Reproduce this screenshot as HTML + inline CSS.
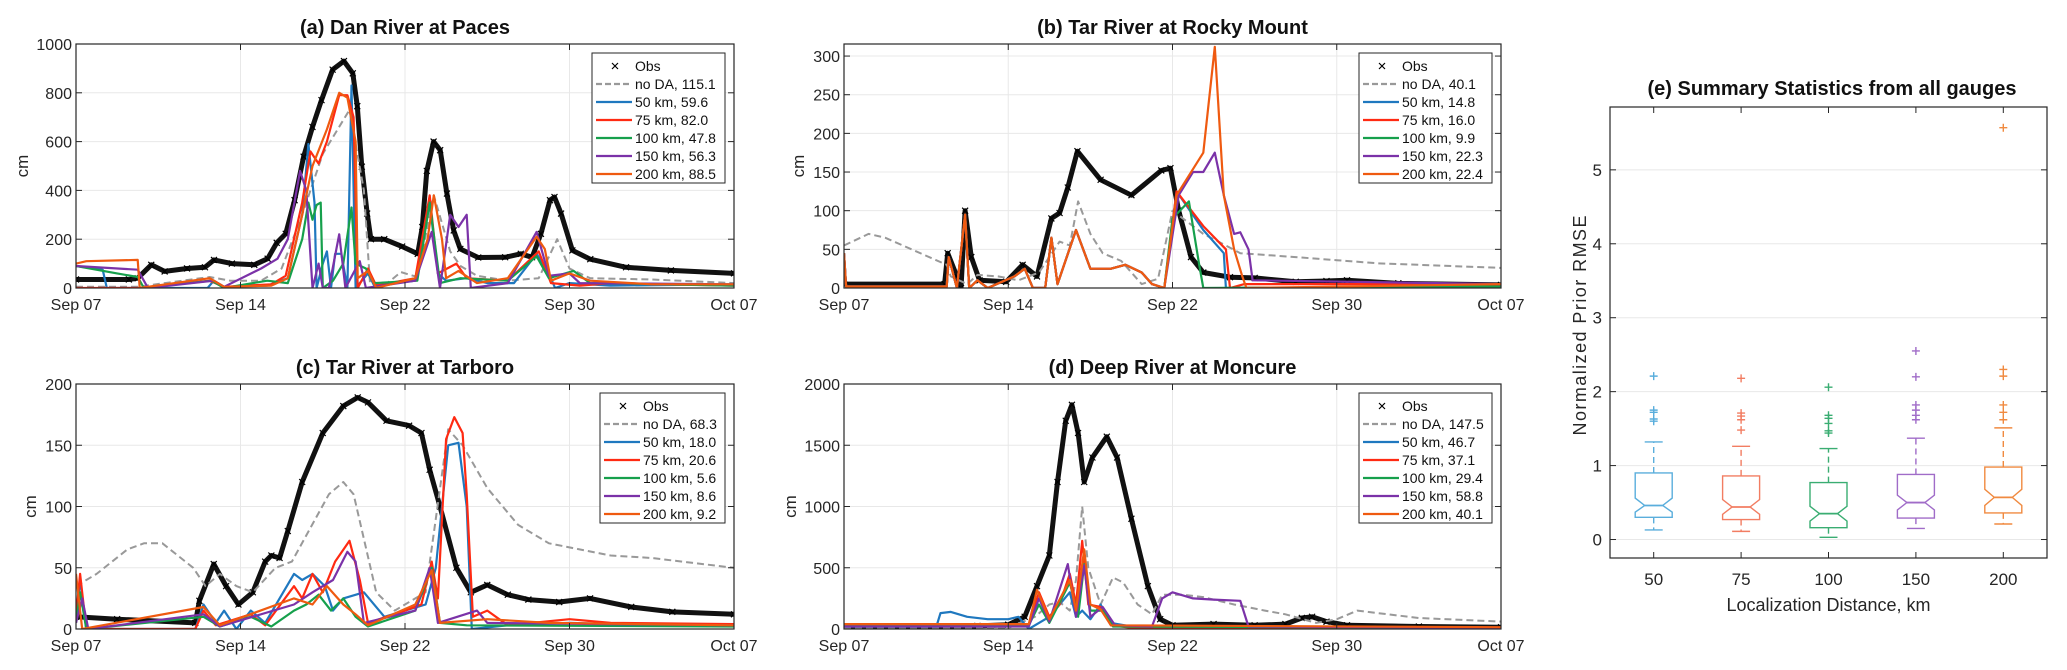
<!DOCTYPE html>
<html><head><meta charset="utf-8"><style>
html,body{margin:0;padding:0;background:#fff;}
svg{display:block;font-family:"Liberation Sans",Arial,sans-serif;}
</style></head><body>
<svg id="fig" width="2067" height="670" viewBox="0 0 2067 670"></svg>
<script>
// ---------- shared data ----------
const xTickDays = [0, 8, 16, 24, 32];
const xTickLabels = ["Sep 07", "Sep 14", "Sep 22", "Sep 30", "Oct 07"];
const seriesNames = ["Obs", "no DA", "50 km", "75 km", "100 km", "150 km", "200 km"];

// ---------- panel (a) ----------
const aScores = ["", "115.1", "59.6", "82.0", "47.8", "56.3", "88.5"];
const aYTicks = [0, 200, 400, 600, 800, 1000];
const aObs = [[0,35],[2.57,35],[3.0,40],[3.66,95],[4.31,68],[5.4,80],[6.27,85],[6.71,115],[7.58,100],[8.67,95],[9.32,120],[9.76,185],[10.2,222],[10.63,360],[11.07,538],[11.5,660],[11.94,770],[12.48,895],[13.03,930],[13.46,880],[13.68,745],[13.9,497],[14.16,305],[14.34,200],[14.99,200],[15.86,170],[16.62,140],[16.84,250],[17.06,480],[17.39,600],[17.71,565],[18.04,387],[18.37,236],[18.69,160],[19.56,125],[20.87,126],[21.63,140],[22.18,126],[22.61,222],[23.05,360],[23.27,373],[23.59,305],[24.14,154],[25.01,118],[26.75,85],[28.93,72],[32,60]];
const aNoDA = [[0,5],[3,5],[6.5,45],[7.5,30],[9,30],[10,80],[11,300],[12,550],[13.3,730],[14,400],[14.3,20],[15,10],[15.8,65],[16.6,45],[17.4,380],[18.2,150],[18.7,90],[19.5,50],[21,30],[22.5,40],[23.4,200],[24,80],[25,40],[28,35],[32,20]];
const a50 = [[0,90],[1.3,75],[1.5,0],[6.4,0],[6.7,30],[7.2,5],[9.3,10],[10.3,40],[11.0,300],[11.3,590],[11.6,350],[11.7,0],[12.0,100],[12.2,150],[12.4,0],[12.6,140],[12.9,140],[13.2,0],[13.4,830],[13.6,0],[14.2,60],[14.5,10],[16.5,30],[17.2,350],[17.6,60],[18.0,30],[19,40],[20,20],[21.3,20],[22.4,140],[23.0,60],[23.3,0],[24,20],[26,10],[32,15]];
const a75 = [[0,0],[3,0],[6.5,30],[7.2,5],[9.5,15],[10.2,50],[11,350],[11.4,560],[11.8,510],[12.2,600],[12.8,790],[13.2,790],[13.5,700],[13.7,0],[14.2,80],[14.6,10],[16.5,40],[17.2,380],[17.6,60],[18.5,100],[19,40],[21,30],[22.5,150],[23.1,20],[24.5,10],[26,20],[32,10]];
const a100 = [[0,90],[2,60],[3,45],[3.3,0],[6.6,30],[7.2,0],[9.3,30],[10.3,20],[11,200],[11.3,350],[11.5,280],[11.7,340],[11.9,350],[12.0,0],[12.5,30],[13.0,100],[13.4,330],[13.6,100],[14.1,80],[14.5,20],[16.6,30],[17.2,350],[17.7,20],[18.7,40],[21,30],[22.4,130],[23.0,40],[24.2,70],[25,20],[32,10]];
const a150 = [[0,90],[3,75],[3.5,0],[6.7,30],[7.2,5],[9.0,80],[9.8,120],[10.3,200],[10.9,480],[11.2,400],[11.5,0],[11.8,100],[12.0,0],[12.3,0],[12.8,220],[13.1,0],[13.8,110],[14.1,0],[16.5,30],[17.3,230],[17.7,0],[18.2,300],[18.6,250],[19.0,300],[19.2,0],[21,20],[22.4,230],[23.0,50],[24,60],[24.5,20],[32,15]];
const a200 = [[0,100],[0.5,110],[3,115],[3.1,0],[6.5,40],[7.2,5],[9.5,10],[10.3,40],[11,300],[11.5,500],[12.2,650],[12.8,800],[13.2,780],[13.6,600],[13.7,40],[14.2,70],[14.6,0],[16.5,40],[17.1,200],[17.4,380],[17.8,200],[18,40],[18.6,70],[19.5,20],[21,40],[22.4,210],[22.8,160],[23.1,30],[24,60],[25,30],[28,15],[32,15]];

// ---------- panel (b) ----------
const bScores = ["", "40.1", "14.8", "16.0", "9.9", "22.3", "22.4"];
const bYTicks = [0, 50, 100, 150, 200, 250, 300];
const bObs = [[0,5],[4.9,5],[5.05,45],[5.5,15],[5.7,0],[5.9,100],[6.2,40],[6.6,10],[7.9,8],[8.7,30],[9.4,15],[10.1,90],[10.5,97],[10.9,130],[11.37,177],[12.5,140],[14,120],[15.45,152],[15.9,155],[16.3,100],[16.9,40],[17.5,20],[18.8,14],[20,13],[22,8],[23.5,9],[24.5,10],[27,6],[32,4]];
const bNoDA = [[0,55],[1.2,70],[2,65],[5,30],[5.2,15],[6,5],[6.5,17],[7.5,15],[8.5,10],[9.5,20],[10.5,60],[11.0,55],[11.4,112],[12.0,70],[12.6,45],[13.5,35],[14.5,5],[15.3,12],[16,100],[16.5,90],[17.5,70],[18.6,55],[19.3,45],[22,40],[24,36],[26,32],[32,26]];
const bEarly = [[0,45],[0.1,2],[5,2],[5.1,40],[5.5,0],[5.9,95],[6.1,0],[6.5,10],[7,0],[8.3,15],[8.8,25],[9.2,0],[9.8,0],[10.1,65],[10.4,5],[11.3,75],[12,25],[13,25],[13.7,30],[14.5,20],[15,5],[15.6,0]];
const b50 = bEarly.concat([[16.2,125],[17.5,75],[18.5,45],[18.6,0],[32,1]]);
const b75 = bEarly.concat([[16.2,125],[17.5,80],[18.6,50],[18.8,0],[19.5,5],[32,5]]);
const b100 = bEarly.concat([[16,90],[16.8,112],[17.3,30],[17.5,0],[32,2]]);
const b150 = bEarly.concat([[16.3,120],[17,150],[17.5,150],[18.06,175],[18.5,120],[19.0,70],[19.3,72],[19.7,50],[19.9,10],[32,5]]);
const b200 = bEarly.concat([[16.2,120],[17.5,175],[18.06,312],[18.5,120],[19.0,50],[19.4,15],[19.6,0],[32,5]]);

// ---------- panel (c) ----------
const cScores = ["", "68.3", "18.0", "20.6", "5.6", "8.6", "9.2"];
const cYTicks = [0, 50, 100, 150, 200];
const cObs = [[0,10],[2,8],[5.8,5],[6.0,23],[6.7,53],[7.3,35],[7.9,20],[8.6,30],[9.2,55],[9.5,60],[9.9,58],[10.3,80],[11,120],[12,160],[13.0,182],[13.7,189],[14.2,185],[15.1,170],[16.2,166],[16.8,160],[17.2,130],[17.7,100],[18.5,50],[19.2,30],[20,36],[21,28],[22,24],[23.5,22],[25,25],[27,18],[29,14],[32,12]];
const cNoDA = [[0,35],[1,45],[2.5,65],[3.3,70],[4.2,70],[5.7,50],[6.3,35],[7,45],[7.8,35],[8.6,30],[9.7,50],[10.5,55],[12.3,110],[13,120],[13.5,110],[14.6,30],[15.5,15],[17,30],[17.5,90],[18.1,163],[18.8,150],[20,115],[21.5,85],[23,70],[26,60],[28,58],[32,50]];
const c50 = [[0,10],[0.2,40],[0.5,0],[5.8,0],[6.2,20],[6.8,5],[7.2,15],[7.8,0],[8.5,15],[9.2,5],[10.6,45],[11,40],[11.5,45],[12.1,35],[12.5,15],[13,25],[14,30],[15,10],[17,20],[17.5,50],[18.1,150],[18.6,152],[19.0,100],[19.25,0],[21,3],[24,5],[28,3],[32,3]];
const c75 = [[0,10],[0.2,45],[0.5,0],[5.8,0],[6.2,15],[6.8,3],[8.5,12],[9.2,3],[10.6,35],[11,25],[11.5,45],[12,30],[12.6,55],[13.3,72],[13.8,40],[14.2,5],[16,15],[16.8,20],[17.3,55],[17.6,25],[18,155],[18.4,173],[18.8,160],[19.0,110],[19.3,10],[20,15],[21,3],[24,8],[26,5],[32,4]];
const c100 = [[0,5],[0.2,30],[0.5,0],[6.2,10],[7,2],[8.5,10],[9.5,2],[10.6,15],[11.2,20],[11.8,28],[12.4,15],[13,25],[13.6,10],[14.2,2],[16.5,15],[17.3,50],[17.7,5],[19,3],[32,2]];
const c150 = [[0,5],[0.3,25],[0.6,0],[6.2,12],[7,2],[10.6,20],[11.5,30],[12.5,40],[13.2,63],[13.6,55],[14,5],[16.5,15],[17.2,50],[17.6,5],[19.5,15],[20,5],[32,3]];
const c200 = [[0,45],[0.3,0],[6.2,18],[7,3],[10.6,25],[11.5,20],[12.2,35],[13,20],[13.6,12],[14.2,3],[16.5,20],[17.3,48],[17.7,5],[20,8],[23,5],[32,3]];

// ---------- panel (d) ----------
const dScores = ["", "147.5", "46.7", "37.1", "29.4", "58.8", "40.1"];
const dYTicks = [0, 500, 1000, 1500, 2000];
const dObs = [[0,10],[5,15],[6.5,25],[8,35],[8.8,100],[9.4,350],[10.0,600],[10.4,1200],[10.8,1700],[11.1,1830],[11.4,1600],[11.7,1200],[12.1,1400],[12.8,1570],[13.3,1400],[14,900],[14.8,350],[15.4,80],[16,30],[18,40],[20,30],[21.5,40],[22.3,90],[22.8,100],[23.5,60],[24.5,30],[28,20],[32,15]];
const dNoDA = [[0,5],[8,10],[9.3,100],[10,200],[10.5,220],[11,150],[11.3,400],[11.6,1000],[11.9,500],[12.5,200],[13.1,420],[13.6,380],[14.3,200],[15,120],[15.5,280],[16.5,280],[17.5,260],[19,200],[20.5,150],[21.5,120],[23,50],[24,80],[25,150],[26,130],[28,90],[32,60]];
const d50 = [[0,20],[4.5,20],[4.7,130],[5.2,140],[6,100],[7,80],[8,80],[8.5,100],[9,0],[10,100],[10.5,200],[11,300],[11.3,100],[11.6,150],[12,80],[12.5,200],[13,50],[14,20],[15,10],[32,10]];
const d75 = [[0,40],[9,40],[9.5,300],[10,100],[10.5,200],[11,450],[11.3,200],[11.6,720],[11.9,200],[12.5,180],[13,30],[14,10],[32,10]];
const d100 = [[0,30],[9,30],[9.5,200],[10,50],[11,380],[11.4,100],[11.7,530],[12,150],[12.6,150],[13.1,20],[32,10]];
const d150 = [[0,20],[9,20],[9.5,250],[10,60],[10.9,530],[11.3,100],[11.7,520],[12,100],[12.6,180],[13.2,30],[15,20],[15.5,250],[16,300],[17,250],[18,240],[19.3,230],[19.7,20],[32,10]];
const d200 = [[0,40],[9,40],[9.4,320],[10,80],[11,400],[11.3,150],[11.7,650],[12,200],[12.5,160],[13,30],[32,15]];

// ---------- panel (e) ----------
const eCats = ["50", "75", "100", "150", "200"];
const eYTicks = [0, 1, 2, 3, 4, 5];
const eQ1 = [0.30, 0.27, 0.16, 0.29, 0.36];
const eMed = [0.46, 0.44, 0.35, 0.50, 0.57];
const eQ3 = [0.90, 0.86, 0.77, 0.88, 0.98];
const eWLo = [0.13, 0.11, 0.03, 0.15, 0.21];
const eWHi = [1.32, 1.26, 1.23, 1.37, 1.51];
const eNotchLo = [0.37, 0.34, 0.25, 0.40, 0.46];
const eNotchHi = [0.56, 0.54, 0.45, 0.60, 0.68];
const eOut = [[1.6,1.63,1.72,1.75,2.21],[1.48,1.62,1.67,1.71,2.18],[1.44,1.47,1.57,1.64,1.68,2.06],[1.62,1.68,1.75,1.82,2.2,2.55],[1.62,1.72,1.82,2.21,2.3,5.57]];
const eColors = ["#5aaedc", "#f27d62", "#3aad72", "#a06cc8", "#f08a40"];

const lineColors = ["#000", "#999999", "#1f78bf", "#ff2a12", "#16a04c", "#7b32a8", "#ef5a10"];

// ---------- drawing helpers ----------
const NS = "http://www.w3.org/2000/svg";
const svg = document.getElementById("fig");
function mk(tag, attrs, parent, text) {
  const e = document.createElementNS(NS, tag);
  for (const k in attrs) e.setAttribute(k, attrs[k]);
  if (text !== undefined) e.textContent = text;
  (parent || svg).appendChild(e);
  return e;
}

function linePanel(key, L, T, W, H, yMax, yTicks, title, titleY, series, scores) {
  const g = mk("g", {});
  
  
  const xs = d => L + d / 32 * W;
  const ys = v => T + H - v / yMax * H;
  // grid
  xTickDays.forEach(d => { const l = mk("line", {x1: xs(d), x2: xs(d), y1: T, y2: T + H, stroke: "#e8e8e8", "stroke-width": 1}, g);
      });
  yTicks.forEach(v => { const l = mk("line", {x1: L, x2: L + W, y1: ys(v), y2: ys(v), stroke: "#e8e8e8", "stroke-width": 1}, g);
      });
  // clip
  const cp = mk("clipPath", {id: "clip" + key}, g);
  mk("rect", {x: L, y: T - 1, width: W, height: H + 1}, cp);
  const dg = mk("g", {"clip-path": "url(#clip" + key + ")"}, g);
  // series lines (draw order: noDA, 50..200, then obs on top-ish like reference)
  const order = [0, 1, 2, 3, 4, 5, 6];
  order.forEach(i => {
    const pts = series[i].map(p => xs(p[0]).toFixed(1) + "," + ys(p[1]).toFixed(1)).join(" ");
    if (i === 0) {
      const pl = mk("polyline", {points: pts, fill: "none", stroke: "#111", "stroke-width": 5, "stroke-linejoin": "round"}, dg);
       
      series[0].forEach(p => {
        const x = xs(p[0]), y = ys(p[1]);
        const m = mk("path", {d: `M${x-3},${y-3}L${x+3},${y+3}M${x-3},${y+3}L${x+3},${y-3}`, stroke: "#000", "stroke-width": 1.2}, dg);
         
      });
    } else {
      const pl = mk("polyline", {points: pts, fill: "none", stroke: lineColors[i], "stroke-width": i === 1 ? 2 : 2.2, "stroke-dasharray": i === 1 ? "7,4" : "none", "stroke-linejoin": "round"}, dg);
      
      
    }
  });
  // axes box
  const box = mk("rect", {x: L, y: T, width: W, height: H, fill: "none", stroke: "#262626", "stroke-width": 1.2}, g);
   
  xTickDays.forEach((d, i) => {
    mk("line", {x1: xs(d), x2: xs(d), y1: T + H, y2: T + H - 6, stroke: "#262626"}, g);
    mk("line", {x1: xs(d), x2: xs(d), y1: T, y2: T + 6, stroke: "#262626"}, g);
    const t = mk("text", {x: xs(d), y: T + H + 22, "text-anchor": "middle", "font-size": 16, fill: "#262626"}, g, xTickLabels[i]);
     
  });
  yTicks.forEach(v => {
    mk("line", {x1: L, x2: L + 6, y1: ys(v), y2: ys(v), stroke: "#262626"}, g);
    mk("line", {x1: L + W, x2: L + W - 6, y1: ys(v), y2: ys(v), stroke: "#262626"}, g);
    const t = mk("text", {x: L - 4, y: ys(v) + 6, "text-anchor": "end", "font-size": 16, fill: "#262626"}, g, String(v));
     
  });
  const yl = mk("text", {x: 0, y: 0, transform: `translate(${L - (yMax >= 1000 ? 48 : 40)},${T + H / 2}) rotate(-90)`, "text-anchor": "middle", "font-size": 17, fill: "#262626"}, g, "cm");
   
  const tt = mk("text", {x: L + W / 2, y: titleY, "text-anchor": "middle", "font-size": 20, "font-weight": "bold", fill: "#111"}, g, title);
   
  // legend
  const lg = mk("g", {}, g);
   
  const lw = (key === "c") ? 125 : 133, lx = L + W - 9 - lw, ly = T + 9;
  mk("rect", {x: lx, y: ly, width: lw, height: 130, fill: "#fff", stroke: "#262626", "stroke-width": 1}, lg);
  seriesNames.forEach((n, i) => {
    const ry = ly + 13 + i * 18;
    const e = mk("g", {}, lg);
     
    if (i === 0) {
      const cx = lx + 23;
      mk("path", {d: `M${cx-3},${ry-3}L${cx+3},${ry+3}M${cx-3},${ry+3}L${cx+3},${ry-3}`, stroke: "#000", "stroke-width": 1.2}, e);
    } else {
      mk("line", {x1: lx + 4, x2: lx + 40, y1: ry, y2: ry, stroke: lineColors[i], "stroke-width": 2.2, "stroke-dasharray": i === 1 ? "6,3" : "none"}, e);
    }
    mk("text", {x: lx + 43, y: ry + 5, "font-size": 14, fill: "#111"}, e, i === 0 ? n : n + ", " + scores[i]);
  });
}

linePanel("a", 76, 44, 658, 244, 1000, aYTicks, "(a) Dan River at Paces", 34, [aObs, aNoDA, a50, a75, a100, a150, a200], aScores);
linePanel("b", 844, 44, 657, 244, 315.6, bYTicks, "(b) Tar River at Rocky Mount", 34, [bObs, bNoDA, b50, b75, b100, b150, b200], bScores);
linePanel("c", 76, 384, 658, 245, 200, cYTicks, "(c) Tar River at Tarboro", 374, [cObs, cNoDA, c50, c75, c100, c150, c200], cScores);
linePanel("d", 844, 384, 657, 245, 2000, dYTicks, "(d) Deep River at Moncure", 374, [dObs, dNoDA, d50, d75, d100, d150, d200], dScores);

// ---------- panel e ----------
(function () {
  const L = 1610, T = 107, W = 437, H = 451, yMin = -0.25, yMax = 5.85;
  const g = mk("g", {});
   
  const ys = v => T + H - (v - yMin) / (yMax - yMin) * H;
  const xs = i => L + (i + 0.5) / eCats.length * W;
  eYTicks.forEach(v => {
    const l = mk("line", {x1: L, x2: L + W, y1: ys(v), y2: ys(v), stroke: "#e8e8e8"}, g);
     
  });
  const box = mk("rect", {x: L, y: T, width: W, height: H, fill: "none", stroke: "#262626", "stroke-width": 1.2}, g);
   
  eYTicks.forEach(v => {
    mk("line", {x1: L, x2: L + 6, y1: ys(v), y2: ys(v), stroke: "#262626"}, g);
    mk("line", {x1: L + W, x2: L + W - 6, y1: ys(v), y2: ys(v), stroke: "#262626"}, g);
    const t = mk("text", {x: L - 8, y: ys(v) + 6, "text-anchor": "end", "font-size": 17, fill: "#262626"}, g, String(v));
     
  });
  eCats.forEach((c, i) => {
    const x = xs(i), col = eColors[i], hw = 18.5, nw = 9, cw = 9;
    mk("line", {x1: x, x2: x, y1: T + H, y2: T + H - 6, stroke: "#262626"}, g);
    mk("line", {x1: x, x2: x, y1: T, y2: T + 6, stroke: "#262626"}, g);
    const t = mk("text", {x: x, y: T + H + 27, "text-anchor": "middle", "font-size": 17, fill: "#262626"}, g, c);
     
    const bg = mk("g", {stroke: col, fill: "none", "stroke-width": 1.4}, g);
     
    const q1 = ys(eQ1[i]), q3 = ys(eQ3[i]), md = ys(eMed[i]), nl = ys(eNotchLo[i]), nh = ys(eNotchHi[i]);
    mk("path", {d: `M${x-hw},${q3}L${x+hw},${q3}L${x+hw},${nh}L${x+nw},${md}L${x+hw},${nl}L${x+hw},${q1}L${x-hw},${q1}L${x-hw},${nl}L${x-nw},${md}L${x-hw},${nh}Z`}, bg);
    mk("line", {x1: x - nw, x2: x + nw, y1: md, y2: md, "stroke-width": 1.8}, bg);
    mk("line", {x1: x, x2: x, y1: q3, y2: ys(eWHi[i]), "stroke-dasharray": "6,4"}, bg);
    mk("line", {x1: x, x2: x, y1: q1, y2: ys(eWLo[i]), "stroke-dasharray": "6,4"}, bg);
    mk("line", {x1: x - cw, x2: x + cw, y1: ys(eWHi[i]), y2: ys(eWHi[i])}, bg);
    mk("line", {x1: x - cw, x2: x + cw, y1: ys(eWLo[i]), y2: ys(eWLo[i])}, bg);
    eOut[i].forEach(o => {
      const y = ys(o);
      const p = mk("path", {d: `M${x-4},${y}L${x+4},${y}M${x},${y-4}L${x},${y+4}`}, bg);
       
    });
  });
  const yl = mk("text", {x: 0, y: 0, transform: `translate(1586,${T + H / 2 - 7}) rotate(-90)`, "text-anchor": "middle", "font-size": 18, fill: "#262626", textLength: 220}, g, "Normalized Prior RMSE");
   
  const xl = mk("text", {x: L + W / 2, y: 611, "text-anchor": "middle", "font-size": 18, fill: "#262626"}, g, "Localization Distance, km");
   
  const tt = mk("text", {x: 1832, y: 95, "text-anchor": "middle", "font-size": 20, "font-weight": "bold", fill: "#111"}, g, "(e) Summary Statistics from all gauges");
   
})();
</script>
</body></html>
